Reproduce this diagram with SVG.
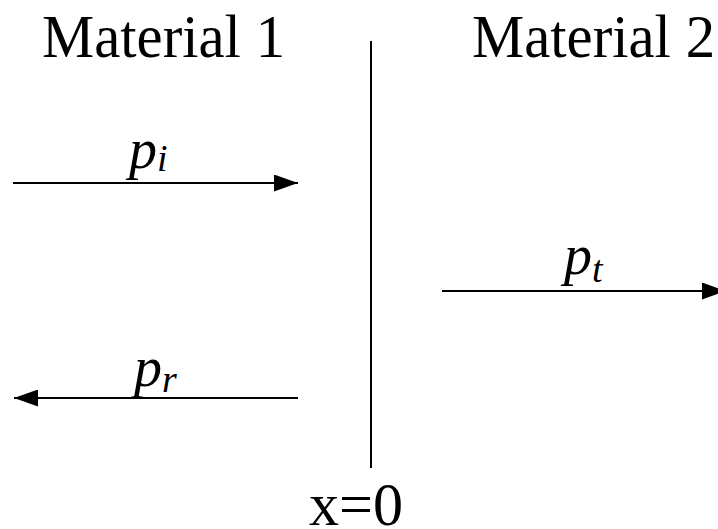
<svg xmlns="http://www.w3.org/2000/svg" width="718" height="529" viewBox="0 0 718 529">
<defs>
<marker id="ah" markerUnits="userSpaceOnUse" markerWidth="24" markerHeight="17" refX="24" refY="8.5" orient="auto" viewBox="0 0 24 17">
<path d="M0,0 L24,8.5 L0,17 z" fill="#000"/>
</marker>
</defs>
<style>
.t{font-family:"Liberation Serif","Times New Roman",serif;font-size:62px;fill:#000}
.p{font-family:"Liberation Serif","Times New Roman",serif;font-style:italic;font-size:56px;fill:#000}
.s{font-size:38px}
.ln{stroke:#000;stroke-width:2;fill:none}
</style>
<rect width="718" height="529" fill="#fff"/>
<g id="labels">
<text class="t" x="42" y="57" textLength="243" lengthAdjust="spacingAndGlyphs">Material 1</text>
<text class="t" x="472" y="57" textLength="243" lengthAdjust="spacingAndGlyphs">Material 2</text>
<text class="t" x="309" y="525" textLength="94" lengthAdjust="spacingAndGlyphs">x=0</text>
</g>
<g id="interface">
<line class="ln" x1="371" y1="41" x2="371" y2="468"/>
</g>
<g id="connectors">
<line class="ln" x1="13" y1="183" x2="298" y2="183" marker-end="url(#ah)"/>
<line class="ln" x1="298" y1="398" x2="14" y2="398" marker-end="url(#ah)"/>
<line class="ln" x1="442" y1="291" x2="726" y2="291" marker-end="url(#ah)"/>
</g>
<g id="pi"><text class="p" x="129" y="168">p<tspan class="s" dy="3">i</tspan></text></g>
<g id="pr"><text class="p" x="134" y="386">p<tspan class="s" dy="6">r</tspan></text></g>
<g id="pt"><text class="p" x="564" y="274">p<tspan class="s" dy="8">t</tspan></text></g>
</svg>
